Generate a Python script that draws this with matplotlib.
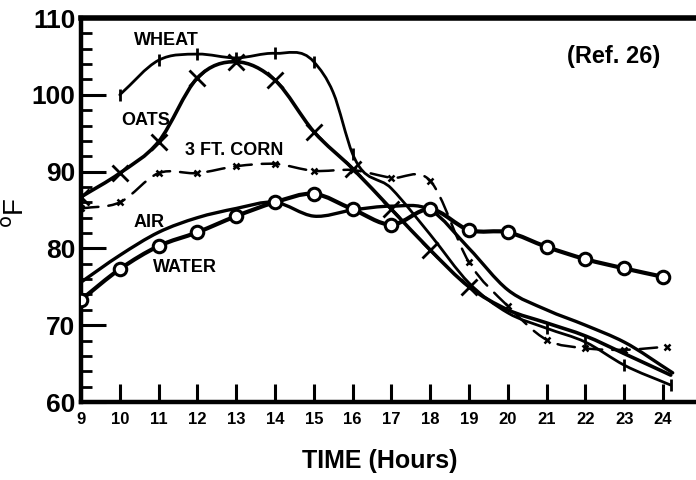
import numpy as np
import matplotlib
matplotlib.use("Agg")
import matplotlib.pyplot as plt
from matplotlib.path import Path
from matplotlib.patches import PathPatch

plt.rcParams['font.family'] = ['Liberation Sans', 'DejaVu Sans']

# ---- data ----
x_ticks = list(range(9, 25))
y_major = [60, 70, 80, 90, 100, 110]

hours_water = [9, 10, 11, 12, 13, 14, 15, 16, 17, 18, 19, 20, 21, 22, 23, 24]
temp_water = [73.3, 77.3, 80.3, 82.1, 84.2, 86.0, 87.1, 85.1, 83.1, 85.1, 82.4, 82.1, 80.2, 78.6, 77.4, 76.3]

hours_air = [9, 10, 11, 12, 13, 14, 15, 16, 17, 18, 19, 20, 21, 22, 23, 24.25]
temp_air = [75.6, 79.1, 82.1, 84.0, 85.2, 86.0, 84.2, 85.0, 85.5, 85.0, 80.0, 74.6, 72.0, 70.0, 67.8, 63.8]

hours_oats = [9, 10, 11, 12, 13, 14, 15, 16, 17, 18, 19, 20, 21, 22, 23, 24.2]
temp_oats = [86.7, 89.8, 93.9, 102.2, 104.3, 101.9, 95.2, 90.4, 85.1, 79.8, 75.0, 72.0, 70.3, 68.6, 66.3, 63.5]

hours_wheat = [10, 11, 12, 13, 14, 15, 15.5, 16, 17, 18, 19, 20, 21, 22, 23, 24.2]
temp_wheat = [100.0, 104.5, 105.3, 104.8, 105.4, 104.3, 100.3, 92.3, 87.8, 81.8, 75.5, 71.6, 69.6, 67.8, 64.8, 62.2]

hours_corn = [9, 10, 11, 12, 13, 14, 15, 16, 17, 18, 19, 20, 21, 22, 23, 24.1]
temp_corn = [85.2, 86.0, 89.8, 89.8, 90.7, 91.0, 90.1, 90.2, 89.2, 88.8, 78.2, 72.5, 68.1, 67.0, 66.8, 67.2]


def smooth_path(x, y):
    x = np.asarray(x, float)
    y = np.asarray(y, float)
    m = np.gradient(y, x)
    verts = [(x[0], y[0])]
    codes = [Path.MOVETO]
    for i in range(len(x) - 1):
        dx = x[i + 1] - x[i]
        verts += [(x[i] + dx / 3, y[i] + m[i] * dx / 3),
                  (x[i + 1] - dx / 3, y[i + 1] - m[i + 1] * dx / 3),
                  (x[i + 1], y[i + 1])]
        codes += [Path.CURVE4] * 3
    return Path(verts, codes)


fig = plt.figure(figsize=(6.96, 4.80), dpi=100)
ax = fig.add_axes([81 / 696, 78 / 480, 615 / 696, 384 / 480])
ax.set_xlim(9, 9 + 615 / 38.8)
ax.set_ylim(60, 110)


def curve(x, y, lw, ls='-'):
    p = PathPatch(smooth_path(x, y), fill=False, lw=lw, ls=ls, ec='black',
                  capstyle='round', joinstyle='round', zorder=3)
    ax.add_patch(p)


curve(hours_air, temp_air, 2.4)
curve(hours_water, temp_water, 3.0)
ax.plot(hours_water, temp_water, ls='none', marker='o', ms=9, mfc='white',
        mec='black', mew=2.2, zorder=5)

curve(hours_oats, temp_oats, 2.6)
ax.plot(hours_oats, temp_oats, ls='none', marker='x', ms=11, mec='black',
        mew=2.0, markevery=list(range(0, 11)), zorder=4)

curve(hours_wheat, temp_wheat, 2.0)
ax.plot(hours_wheat, temp_wheat, ls='none', marker='|', ms=9, mec='black',
        mew=2.0, markevery=[0, 1, 2, 3, 4, 5, 7, 12, 13, 14, 15], zorder=4)

curve(hours_corn, temp_corn, 1.8, ls=(0, (7, 4)))
ax.plot(hours_corn, temp_corn, ls='none', marker='x', ms=5, mec='black',
        mew=1.8, zorder=4)

# ---- axes styling ----
for s in ['left', 'bottom']:
    ax.spines[s].set_linewidth(3.2)
ax.spines['top'].set_linewidth(4.0)
ax.spines['right'].set_visible(False)

ax.set_xticks(x_ticks)
ax.set_xticklabels([str(v) for v in x_ticks], fontsize=12, fontweight='bold')
ax.set_yticks(y_major)
ax.set_yticklabels([str(v) for v in y_major], fontsize=19, fontweight='bold')
ax.set_yticks(np.arange(60, 111, 2), minor=True)
ax.tick_params(axis='x', direction='in', length=13, width=2.2, pad=7)
ax.tick_params(axis='y', which='major', direction='in', length=18, width=2.2, pad=4)
ax.tick_params(axis='y', which='minor', direction='in', length=8, width=2.0)
ax.tick_params(top=False, right=False)

lab = dict(fontsize=13, fontweight='bold', ha='center', va='center', zorder=6)
ax.text(11.19, 107.1, 'WHEAT', **lab)
ax.text(10.68, 96.7, 'OATS', **lab)
ax.text(12.94, 92.8, '3 FT. CORN', **lab)
ax.text(10.75, 83.4, 'AIR', **lab)
ax.text(11.68, 77.45, 'WATER', **lab)
ax.text(22.74, 105.05, '(Ref. 26)', fontsize=17, fontweight='bold',
        ha='center', va='center')

fig.text(0.546, 0.040, 'TIME (Hours)', fontsize=18, fontweight='bold',
         ha='center', va='center')
fig.text(0.024, 0.558, r'$^{\rm o}$F', fontsize=20, rotation=90,
         ha='center', va='center')

fig.savefig('out.png', dpi=100, facecolor='white')
